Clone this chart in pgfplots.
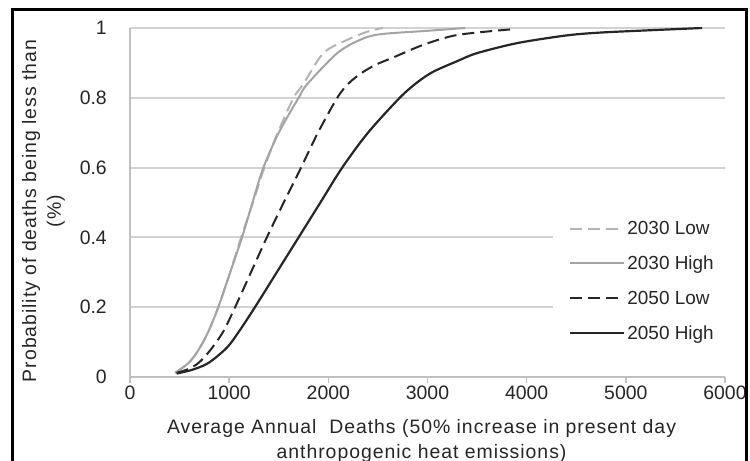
\documentclass[border=0pt]{standalone}
\usepackage{pgfplots}
\pgfplotsset{compat=1.18}
\usepackage{fontspec}
\setmainfont{Liberation Sans}
\newfontfamily\labelfont[LetterSpace=5]{Liberation Sans}
\definecolor{gridc}{HTML}{D2D2D2}
\definecolor{axisc}{HTML}{C0C0C0}
\definecolor{lowA}{HTML}{B4B4B4}
\definecolor{highA}{HTML}{A4A4A4}
\definecolor{dark}{HTML}{262626}
\pgfplotsset{myleg/.style={legend image code/.code={\draw[##1] (0bp,0bp) -- (54bp,0bp);}}}
\begin{document}
\begin{tikzpicture}
\useasboundingbox (0,0) rectangle (750bp,461bp);
\clip (0,0) rectangle (750bp,461bp);
\fill[white] (0,0) rectangle (750bp,461bp);
\begin{axis}[
  at={(130bp,84bp)}, anchor=south west,
  scale only axis, width=595bp, height=349bp,
  xmin=0, xmax=6000, ymin=0, ymax=1,
  xtick={0,1000,2000,3000,4000,5000,6000},
  ytick={0,0.2,0.4,0.6,0.8,1},
  yticklabels={0,0.2,0.4,0.6,0.8,1},
  scaled x ticks=false,
  /pgf/number format/1000 sep={},
  /pgf/number format/assume math mode=true,
  axis lines=left,
  axis line style={draw=axisc, line width=1.5bp, -},
  ymajorgrids, grid style={draw=gridc, line width=2bp},
  tick align=outside, major tick length=6bp,
  xtick style={draw=axisc, line width=1.5bp},
  ytick style={draw=none},
  ticklabel style={font=\fontsize{19.5}{21}\selectfont, text=black!85},
  xticklabel style={inner sep=0pt, anchor=north, yshift=-3bp},
  yticklabel style={inner sep=0pt, anchor=east, xshift=-17bp},
  xlabel={Average Annual\ \ Deaths (50\% increase in present day\\anthropogenic heat emissions)},
  xlabel style={at={(axis description cs:0.49,-0.1214)}, anchor=north, inner sep=0pt, align=center, font=\labelfont\fontsize{19.5}{24.7}\selectfont, text=black!85},
  ylabel={Probability of deaths being less than\\(\%)},
  ylabel style={at={(axis description cs:-0.1454,0.4756)}, anchor=center, inner sep=0pt, align=center, font=\labelfont\fontsize{19.5}{24.7}\selectfont, text=black!85},
  legend style={at={(axis description cs:0.711,0.47)}, anchor=north west, draw=none, fill=white,
    font=\fontsize{19}{22}\selectfont, text=black!85, row sep=16bp, inner xsep=16bp, inner ysep=6bp},
  legend cell align=left,
]
\addplot[lowA, line width=2bp, dash pattern=on 12bp off 6bp, smooth, tension=0.5, myleg] coordinates {
 (455,0.012) (590,0.04) (690,0.077) (790,0.13) (890,0.2) (1010,0.3) (1120,0.4) (1240,0.5)
 (1355,0.6) (1490,0.7) (1650,0.8) (1750,0.84) (1950,0.928) (2190,0.966) (2400,0.99) (2550,1.0)};
\addlegendentry{2030 Low}
\addplot[highA, line width=2bp, smooth, tension=0.5, myleg] coordinates {
 (455,0.012) (590,0.04) (690,0.077) (790,0.13) (890,0.2) (1010,0.3) (1130,0.4) (1235,0.5)
 (1345,0.6) (1500,0.7) (1700,0.8) (1790,0.84) (2090,0.928) (2320,0.966) (2520,0.982) (3000,0.992) (3380,1.0)};
\addlegendentry{2030 High}
\addplot[dark, line width=2bp, dash pattern=on 12bp off 6bp, smooth, tension=0.5, myleg] coordinates {
 (470,0.012) (580,0.022) (690,0.04) (810,0.077) (940,0.13) (1060,0.2) (1220,0.3) (1380,0.4) (1550,0.5)
 (1725,0.6) (1895,0.7) (2090,0.8) (2200,0.84) (2330,0.87) (2480,0.895) (2650,0.915) (2960,0.952) (3300,0.98) (3840,0.996)};
\addlegendentry{2050 Low}
\addplot[dark, line width=2.2bp, smooth, tension=0.5, myleg] coordinates {
 (470,0.01) (620,0.02) (790,0.04) (980,0.085) (1110,0.135) (1260,0.2) (1480,0.3) (1700,0.4)
 (1920,0.5) (2140,0.6) (2400,0.7) (2720,0.8) (2900,0.845) (3060,0.875) (3300,0.905) (3500,0.928) (3910,0.957) (4410,0.979) (4750,0.987) (5200,0.993) (5770,1.0)};
\addlegendentry{2050 High}
\end{axis}
\draw[line width=3bp, black] (12.5bp,-10bp) |- (746.5bp,451bp) -- (746.5bp,-10bp);
\end{tikzpicture}
\end{document}
